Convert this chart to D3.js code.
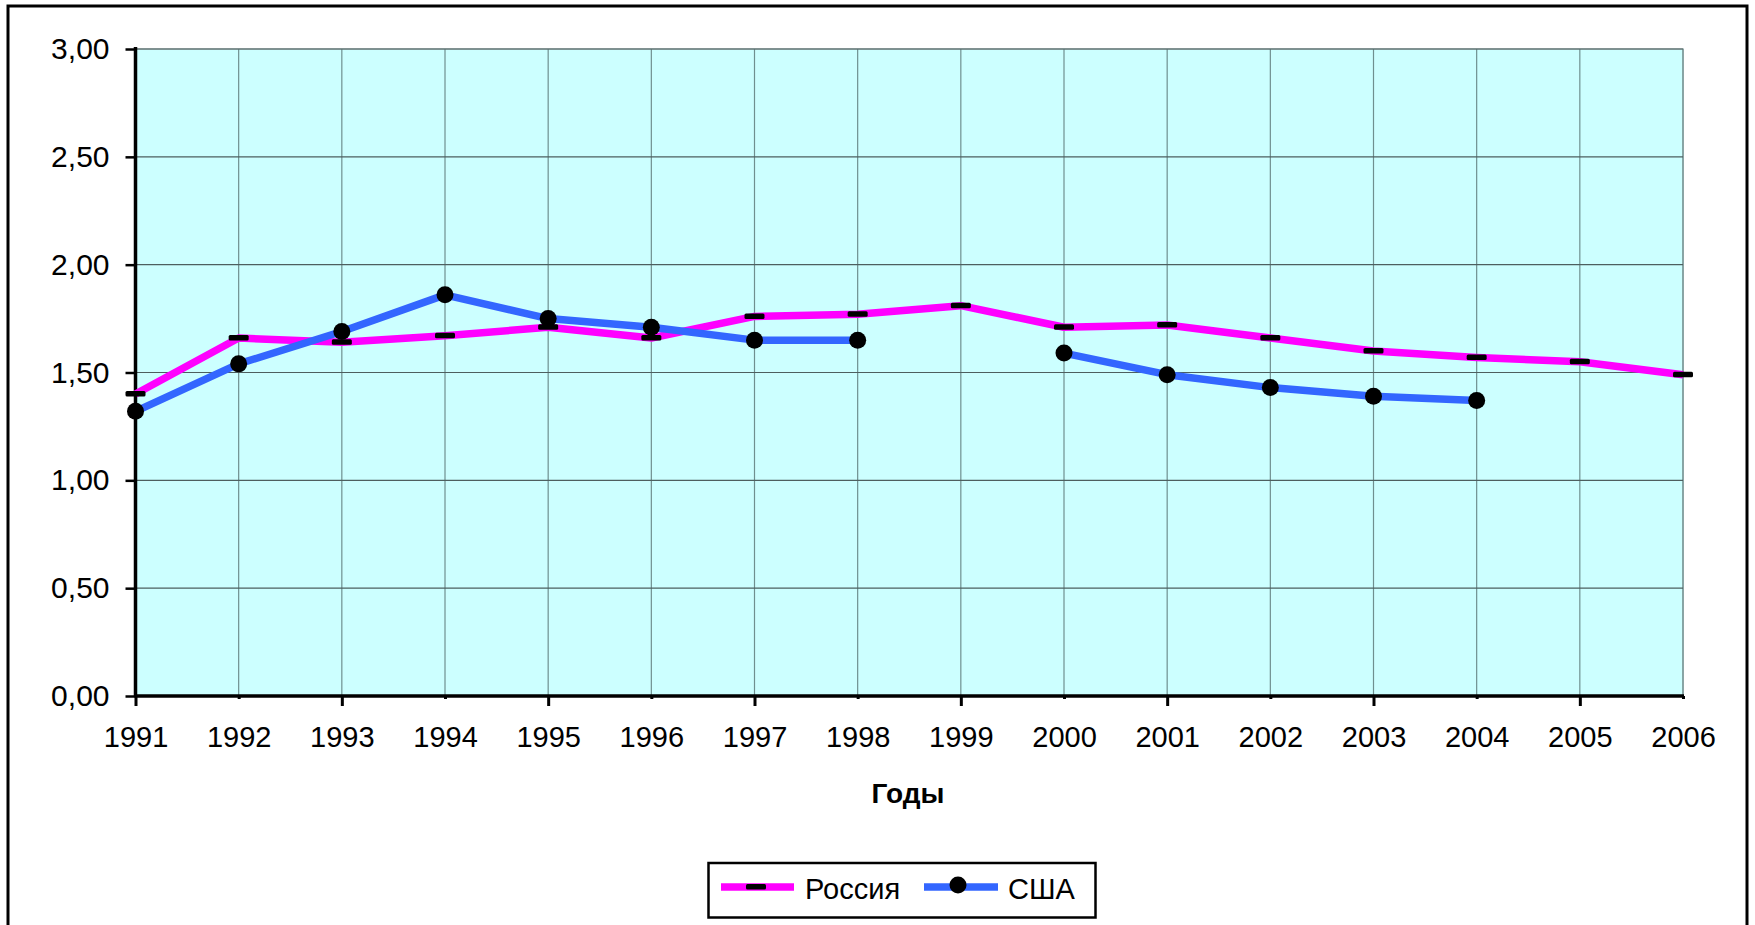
<!DOCTYPE html>
<html>
<head>
<meta charset="utf-8">
<script src="https://cdn.jsdelivr.net/npm/d3@7"></script>
<style>
  html, body { margin: 0; padding: 0; background: #ffffff; }
  svg { display: block; }
  text { font-family: "Liberation Sans", Arial, sans-serif; fill: #000; }
</style>
</head>
<body>
<svg id="chart" width="1755" height="925"></svg>
<script>
// ---- data ----
const years = ["1991","1992","1993","1994","1995","1996","1997","1998","1999","2000","2001","2002","2003","2004","2005","2006"];
const russia = [1.40,1.66,1.64,1.67,1.71,1.66,1.76,1.77,1.81,1.71,1.72,1.66,1.60,1.57,1.55,1.49];
const usa    = [1.32,1.54,1.69,1.86,1.75,1.71,1.65,1.65,null,1.59,1.49,1.43,1.39,1.37,null,null];
const yTicks = [0, 0.5, 1.0, 1.5, 2.0, 2.5, 3.0];
const seriesNames = ["Россия", "США"];
const xTitle = "Годы";

// ---- layout ----
const svg = d3.select("#chart");
const L = 135.5, R = 1683, T = 49, B = 696;

const x = d3.scalePoint().domain(years).range([L, R]).padding(0);
const y = d3.scaleLinear().domain([0, 3]).range([B, T]);
const fmt = v => d3.format(".2f")(v).replace(".", ",");

// outer frame
svg.append("rect").attr("x", 8).attr("y", 6).attr("width", 1739).attr("height", 940)
  .attr("fill", "#fff").attr("stroke", "#000").attr("stroke-width", 3);

// plot background
svg.append("rect").attr("x", L).attr("y", T).attr("width", R - L).attr("height", B - T)
  .attr("fill", "#CCFFFF").attr("stroke", "#9fb3b3").attr("stroke-width", 1.5);

// vertical grid
svg.append("g").selectAll("line").data(years.slice(1)).join("line")
  .attr("x1", d => x(d)).attr("x2", d => x(d)).attr("y1", T).attr("y2", B)
  .attr("stroke", "#6f8f8f").attr("stroke-width", 1.2);

// horizontal grid
svg.append("g").selectAll("line").data(yTicks.slice(1)).join("line")
  .attr("x1", L).attr("x2", R).attr("y1", d => y(d)).attr("y2", d => y(d))
  .attr("stroke", "#4d5f5f").attr("stroke-width", 1.2);

// y axis
const yAxis = d3.axisLeft(y).tickValues(yTicks).tickFormat(fmt).tickSize(10).tickPadding(16);
const gy = svg.append("g").attr("transform", `translate(${L},0)`).call(yAxis);
gy.select(".domain").remove();
gy.selectAll(".tick line").attr("stroke", "#000").attr("stroke-width", 2.5);
gy.selectAll(".tick text").attr("font-size", 30).attr("font-family", "Liberation Sans, Arial, sans-serif").attr("fill", "#000");
svg.append("line").attr("x1", L).attr("x2", L).attr("y1", T - 2).attr("y2", B + 1)
  .attr("stroke", "#000").attr("stroke-width", 3.5);

// x axis
const xAxis = d3.axisBottom(x).tickSize(0).tickPadding(30);
const gx = svg.append("g").attr("transform", `translate(0,${B})`).call(xAxis);
gx.select(".domain").remove();
gx.selectAll(".tick text").attr("font-size", 29).attr("font-family", "Liberation Sans, Arial, sans-serif").attr("fill", "#000");
gx.selectAll(".tick").append("line")
  .attr("y1", 0).attr("y2", (d, i) => i % 2 === 0 ? 10 : 3)
  .attr("stroke", "#000").attr("stroke-width", 3);
svg.append("line").attr("x1", L - 1).attr("x2", R + 1).attr("y1", B).attr("y2", B)
  .attr("stroke", "#000").attr("stroke-width", 3.5);

// x title
svg.append("text").attr("x", 908).attr("y", 803).attr("text-anchor", "middle")
  .attr("font-size", 28).attr("font-weight", "bold").text(xTitle);

// lines
const line = d3.line().defined(d => d.v != null).x(d => x(d.k)).y(d => y(d.v));
const rData = years.map((k, i) => ({ k, v: russia[i] }));
const uData = years.map((k, i) => ({ k, v: usa[i] }));

svg.append("path").datum(rData).attr("d", line).attr("fill", "none")
  .attr("stroke", "#FF00FF").attr("stroke-width", 7.5).attr("stroke-linejoin", "round");
svg.append("path").datum(uData).attr("d", line).attr("fill", "none")
  .attr("stroke", "#3366FF").attr("stroke-width", 7.5).attr("stroke-linejoin", "round");

// markers
svg.append("g").selectAll("rect").data(rData.filter(d => d.v != null)).join("rect")
  .attr("x", d => x(d.k) - 10).attr("y", d => y(d.v) - 3).attr("width", 20).attr("height", 5.5)
  .attr("rx", 1.5).attr("fill", "#000");
svg.append("g").selectAll("circle").data(uData.filter(d => d.v != null)).join("circle")
  .attr("cx", d => x(d.k)).attr("cy", d => y(d.v)).attr("r", 8.5).attr("fill", "#000");

// legend
const lg = svg.append("g");
lg.append("rect").attr("x", 708.5).attr("y", 863).attr("width", 387).attr("height", 54.5)
  .attr("fill", "#fff").attr("stroke", "#000").attr("stroke-width", 2.5);
lg.append("line").attr("x1", 721).attr("x2", 794).attr("y1", 887).attr("y2", 887)
  .attr("stroke", "#FF00FF").attr("stroke-width", 7.5);
lg.append("rect").attr("x", 746).attr("y", 884).attr("width", 20).attr("height", 5.5).attr("rx", 1.5).attr("fill", "#000");
lg.append("text").attr("x", 805).attr("y", 899).attr("font-size", 29).text(seriesNames[0]);
lg.append("line").attr("x1", 924).attr("x2", 998).attr("y1", 887).attr("y2", 887)
  .attr("stroke", "#3366FF").attr("stroke-width", 7.5);
lg.append("circle").attr("cx", 958).attr("cy", 885).attr("r", 8.5).attr("fill", "#000");
lg.append("text").attr("x", 1008).attr("y", 899).attr("font-size", 29).text(seriesNames[1]);
</script>
</body>
</html>
